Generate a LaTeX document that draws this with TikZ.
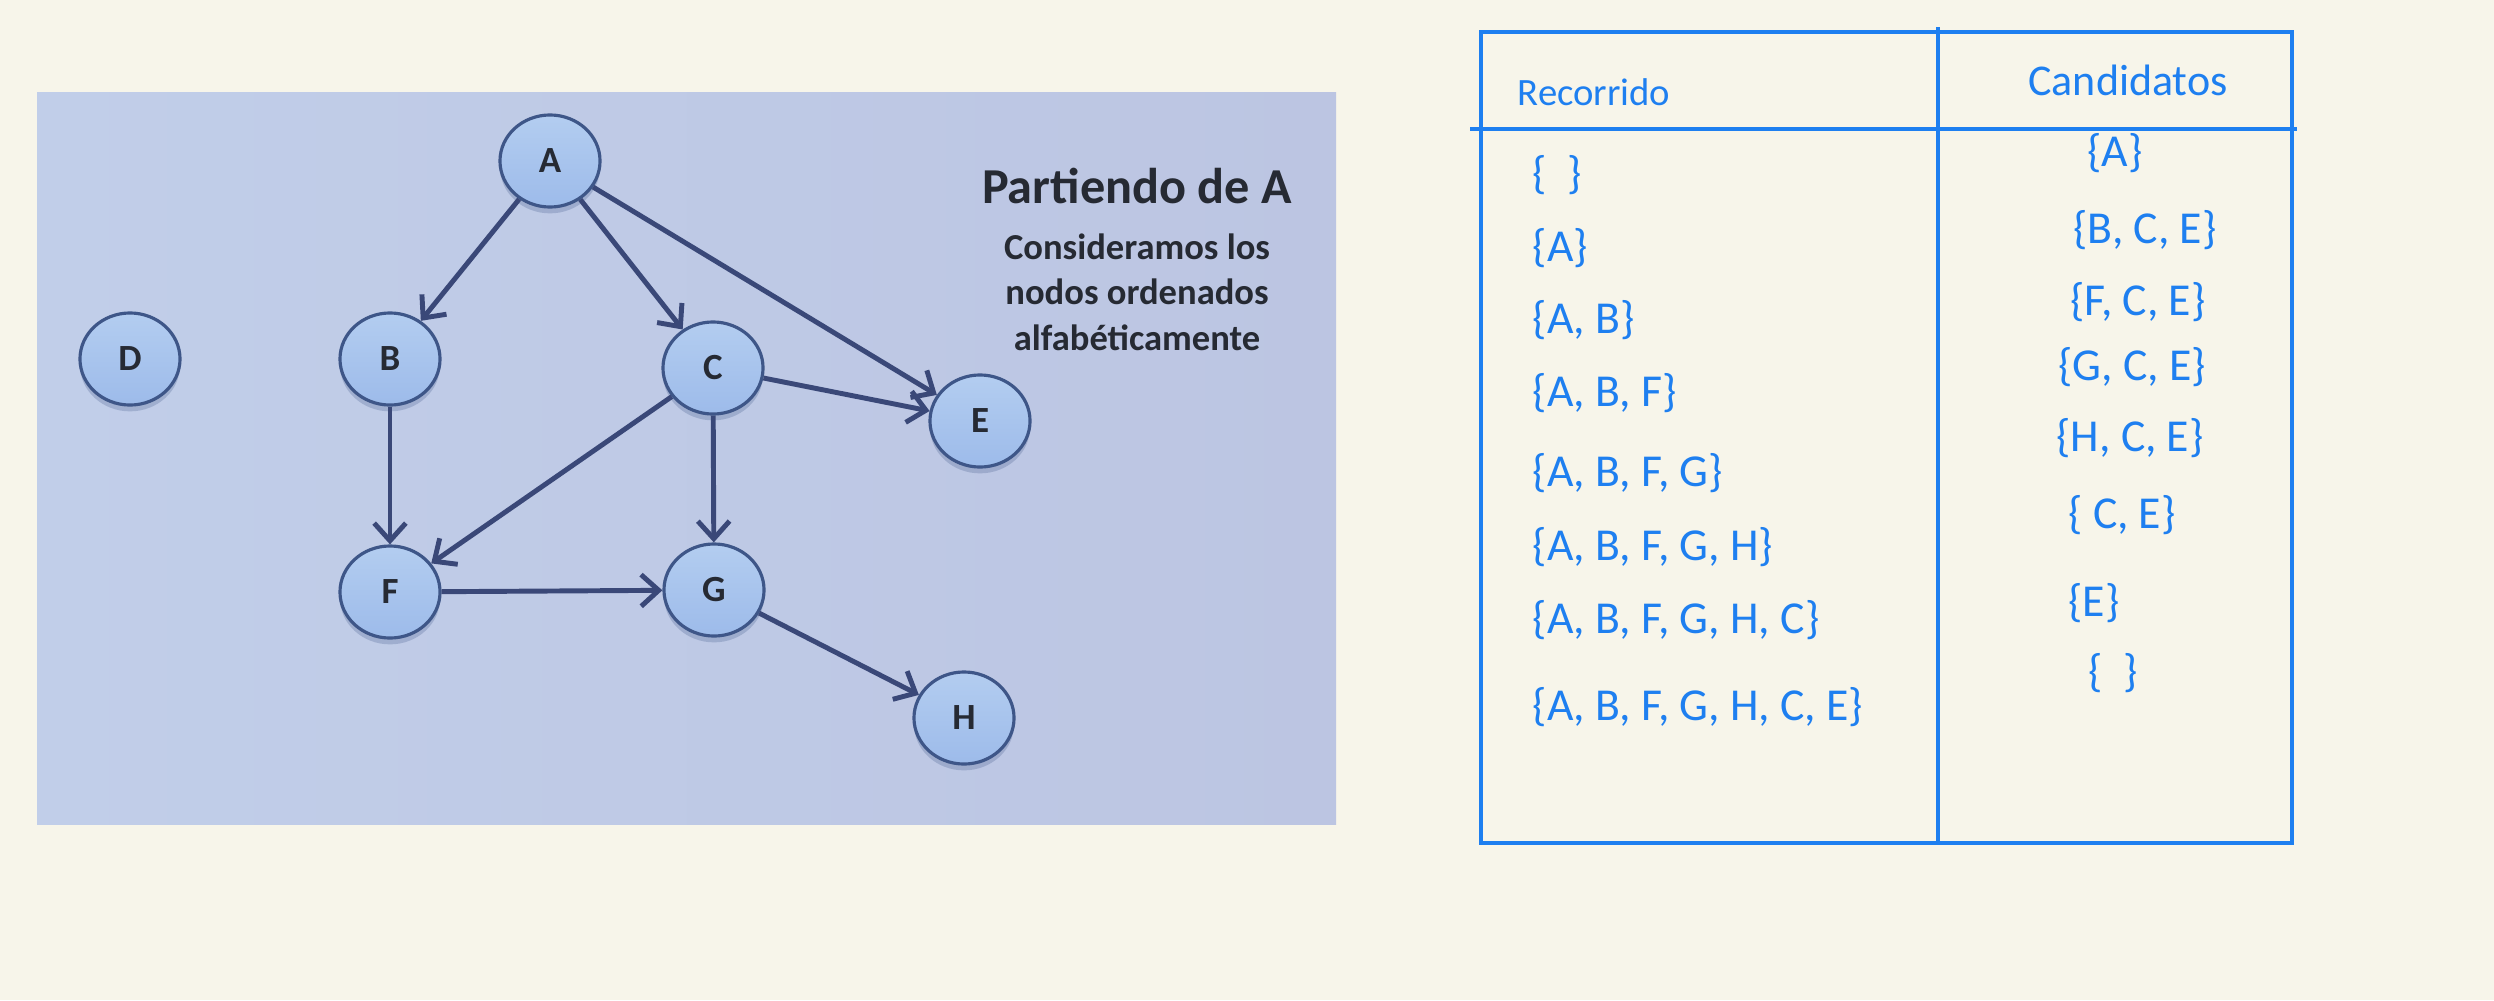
\documentclass[tikz,border=0pt]{standalone}
\usepackage{fontspec}
\setmainfont{Carlito}
\usetikzlibrary{positioning, arrows.meta, shapes.geometric, shadows, shadings}
\definecolor{PaperBG}{HTML}{F7F5EA}
\definecolor{SlideL}{HTML}{C1CEE9}
\definecolor{SlideR}{HTML}{BCC5E2}
\definecolor{NodeTop}{HTML}{B3CDF0}
\definecolor{NodeBot}{HTML}{9DBBEA}
\definecolor{NodeEdge}{HTML}{3E5688}
\definecolor{NodeInk}{HTML}{262A33}
\definecolor{ArrowInk}{HTML}{3A4878}
\definecolor{PenBlue}{HTML}{1E7FF0}
\tikzset{
  graphnode/.style  = {ellipse, draw=NodeEdge, line width=0.9pt,
                       top color=NodeTop, bottom color=NodeBot,
                       minimum width=1cm, minimum height=0.92cm, inner sep=0pt,
                       font=\fontsize{10.5}{13}\selectfont\bfseries, text=NodeInk,
                       drop shadow={shadow xshift=0pt, shadow yshift=-1.8pt,
                                    opacity=0.25, fill=NodeEdge}},
  grapharr/.style   = {-{Straight Barb[length=5pt, width=9pt]}, ArrowInk, line width=1.4pt},
  slidetitle/.style = {font=\fontsize{14.3}{16}\selectfont\bfseries, text=NodeInk, inner sep=0pt},
  slidetext/.style  = {font=\fontsize{10.4}{13}\selectfont\bfseries, text=NodeInk,
                       align=center, inner sep=0pt},
  inkline/.style    = {PenBlue, line width=0.9pt},
  inkhead/.style    = {font=\fontsize{12.5}{14}\selectfont, text=PenBlue, inner sep=0pt},
  inkset/.style     = {font=\fontsize{13}{15}\selectfont, text=PenBlue, inner sep=0pt},
}

\begin{document}
\begin{tikzpicture}[x=0.01cm, y=-0.01cm]
    \fill[PaperBG] (0,0) rectangle (2494,1000);
    \useasboundingbox (0,0) rectangle (2494,1000);
    % slide
    \fill[left color=SlideL, right color=SlideR] (37,92) rectangle (1336,824);
    \node[graphnode] (A) at (550,161) {A};
    \node[graphnode] (D) at (130,359) {D};
    \node[graphnode] (B) at (390,359) {B};
    \node[graphnode] (C) at (713,368) {C};
    \node[graphnode] (E) at (980,421) {E};
    \node[graphnode] (F) at (390,592) {F};
    \node[graphnode] (G) at (714,590) {G};
    \node[graphnode] (H) at (964,718) {H};
    \foreach \s/\t in {A/B, A/C, A/E, B/F, C/E, C/F, C/G, F/G, G/H}
      \draw[grapharr] (\s) -- (\t);
    \node[slidetitle] (title) at (1137,186) {Partiendo de A};
    \node[slidetext, below=8pt of title] (sub) {Consideramos los\\nodos ordenados\\alfabéticamente};
    % table
    \draw[inkline] (1481,32) rectangle (2292,843);
    \draw[inkline] (1470,129) -- (2297,129);
    \draw[inkline] (1938,27) -- (1938,841);
    \node[inkhead, anchor=west, font=\fontsize{11}{14}\selectfont] (hrec) at (1517,92) {Recorrido};
    \node[inkhead] (hcand) at (2128,80) {Candidatos};
    \node[inkset, anchor=west] (r1) at (1532,175) {\{\ \ \}};
    \node[inkset, anchor=west] (r2) at (1532,248) {\{A\}};
    \node[inkset, anchor=west] (r3) at (1532,320) {\{A, B\}};
    \node[inkset, anchor=west] (r4) at (1532,393) {\{A, B, F\}};
    \node[inkset, anchor=west] (r5) at (1532,473) {\{A, B, F, G\}};
    \node[inkset, anchor=west] (r6) at (1532,547) {\{A, B, F, G, H\}};
    \node[inkset, anchor=west] (r7) at (1532,620) {\{A, B, F, G, H, C\}};
    \node[inkset, anchor=west] (r8) at (1532,707) {\{A, B, F, G, H, C, E\}};
    \node[inkset] (c1) at (2115,153) {\{A\}};
    \node[inkset] (c2) at (2145,230) {\{B, C, E\}};
    \node[inkset] (c3) at (2138,302) {\{F, C, E\}};
    \node[inkset] (c4) at (2132,367) {\{G, C, E\}};
    \node[inkset] (c5) at (2130,438) {\{H, C, E\}};
    \node[inkset] (c6) at (2122,515) {\{\ C, E\}};
    \node[inkset] (c7) at (2094,603) {\{E\}};
    \node[inkset] (c8) at (2113,673) {\{\ \ \}};
\end{tikzpicture}
\end{document}
